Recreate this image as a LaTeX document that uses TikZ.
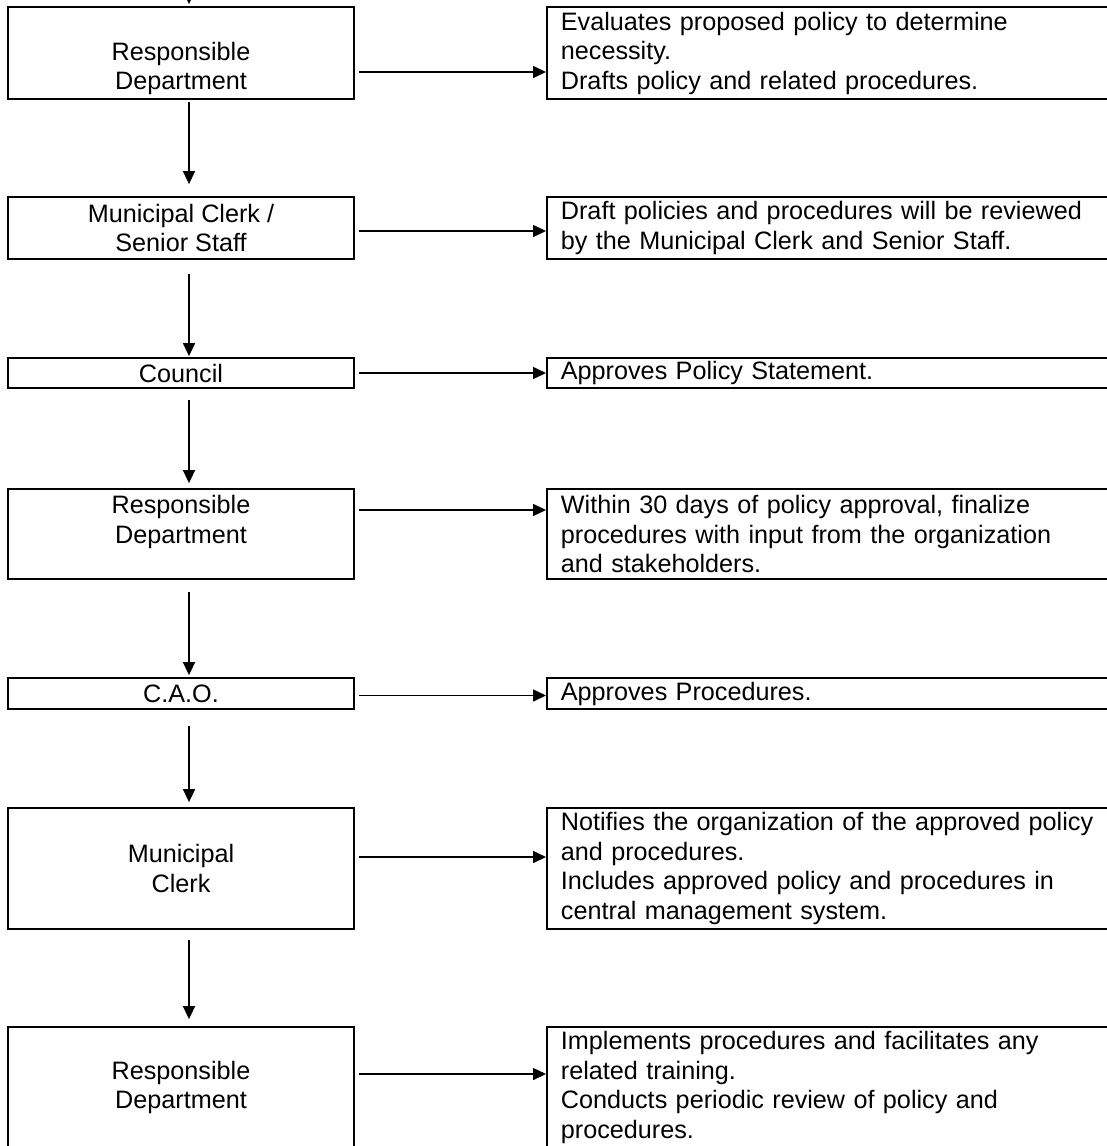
\documentclass[tikz,border=0pt]{standalone}
\usepackage{fontspec}
\setmainfont{Liberation Sans}
\usetikzlibrary{arrows.meta}

\begin{document}
\begin{tikzpicture}[x=0.5pt,y=-0.5pt,
    role/.style={draw, line width=0.9pt, minimum width=173pt, inner sep=0pt,
                 align=center, font=\fontsize{12.6}{14.75}\selectfont},
    task/.style={draw, line width=0.9pt, anchor=west, text width=380pt,
                 inner xsep=7pt, inner ysep=0pt, align=left,
                 font=\fontsize{12.6}{14.75}\selectfont},
    flow/.style={line width=0.8pt, -{Triangle[length=6.5pt,width=6pt]}}]
    \clip (0,0) rectangle (1107,1146); % Clips the page, the notes run off to the right

    % left column: who acts
    \node[role, minimum height=46pt]   (DeptOne)    at (181,53)     {\rule{0pt}{10pt}\\Responsible\\Department};
    \node[role, minimum height=31pt]   (ClerkStaff) at (181,228)    {Municipal Clerk /\\Senior Staff};
    \node[role, minimum height=15pt]   (Council)    at (181,373)    {Council};
    \node[role, minimum height=45pt]   (DeptTwo)    at (181,534)    {Responsible\\Department\\\mbox{}};
    \node[role, minimum height=15.5pt] (Cao)        at (181,693.5)  {C.A.O.};
    \node[role, minimum height=60.5pt] (Clerk)      at (181,868.5)  {Municipal\\Clerk};
    \node[role, minimum height=60.5pt] (DeptThree)  at (181,1087.5) {Responsible\\Department};

    % right column: what is done
    \node[task, minimum height=46pt]   (TaskOne)   at (546,53)
        {Evaluates proposed policy to determine\\necessity.\\Drafts policy and related procedures.};
    \node[task, minimum height=31pt]   (TaskTwo)   at (546,228)
        {Draft policies and procedures will be reviewed\\by the Municipal Clerk and Senior Staff.};
    \node[task, minimum height=15pt]   (TaskThree) at (546,373)
        {Approves Policy Statement.};
    \node[task, minimum height=45pt]   (TaskFour)  at (546,534)
        {Within 30 days of policy approval, finalize\\procedures with input from the organization\\and stakeholders.};
    \node[task, minimum height=15.5pt] (TaskFive)  at (546,693.5)
        {Approves Procedures.};
    \node[task, minimum height=60.5pt] (TaskSix)   at (546,868.5)
        {Notifies the organization of the approved policy\\and procedures.\\Includes approved policy and procedures in\\central management system.};
    \node[task, minimum height=60.5pt] (TaskSeven) at (546,1087.5)
        {Implements procedures and facilitates any\\related training.\\Conducts periodic review of policy and\\procedures.};

    % down the column
    \coordinate (Entry) at (189,-20);
    \draw[flow, shorten >=1pt] (Entry) -- ([xshift=4pt]DeptOne.north);
    \draw[flow, shorten <=1pt, shorten >=6pt]
        ([xshift=4pt]DeptOne.south) -- ([xshift=4pt]ClerkStaff.north);
    \draw[flow, shorten <=7pt, shorten >=0.5pt]
        ([xshift=4pt]ClerkStaff.south) -- ([xshift=4pt]Council.north);
    \draw[flow, shorten <=5.5pt, shorten >=2.5pt]
        ([xshift=4pt]Council.south) -- ([xshift=4pt]DeptTwo.north);
    \draw[flow, shorten <=6pt, shorten >=1pt]
        ([xshift=4pt]DeptTwo.south) -- ([xshift=4pt]Cao.north);
    \draw[flow, shorten <=8pt, shorten >=2.5pt]
        ([xshift=4pt]Cao.south) -- ([xshift=4pt]Clerk.north);
    \draw[flow, shorten <=5pt, shorten >=3.5pt]
        ([xshift=4pt]Clerk.south) -- ([xshift=4pt]DeptThree.north);

    % across to the notes
    \draw[flow, shorten <=2pt] ([yshift=-9.5pt]DeptOne.east)    -- ([yshift=-9.5pt]TaskOne.west);
    \draw[flow, shorten <=2pt] ([yshift=-1.5pt]ClerkStaff.east) -- ([yshift=-1.5pt]TaskTwo.west);
    \draw[flow, shorten <=2pt] (Council.east)                   -- (TaskThree.west);
    \draw[flow, shorten <=2pt] ([yshift=12pt]DeptTwo.east)      -- ([yshift=12pt]TaskFour.west);
    \draw[flow, shorten <=2pt] ([yshift=-1pt]Cao.east)          -- ([yshift=-1pt]TaskFive.west);
    \draw[flow, shorten <=2pt] ([yshift=5.75pt]Clerk.east)      -- ([yshift=5.75pt]TaskSix.west);
    \draw[flow, shorten <=2pt] ([yshift=6.75pt]DeptThree.east)  -- ([yshift=6.75pt]TaskSeven.west);
\end{tikzpicture}
\end{document}
